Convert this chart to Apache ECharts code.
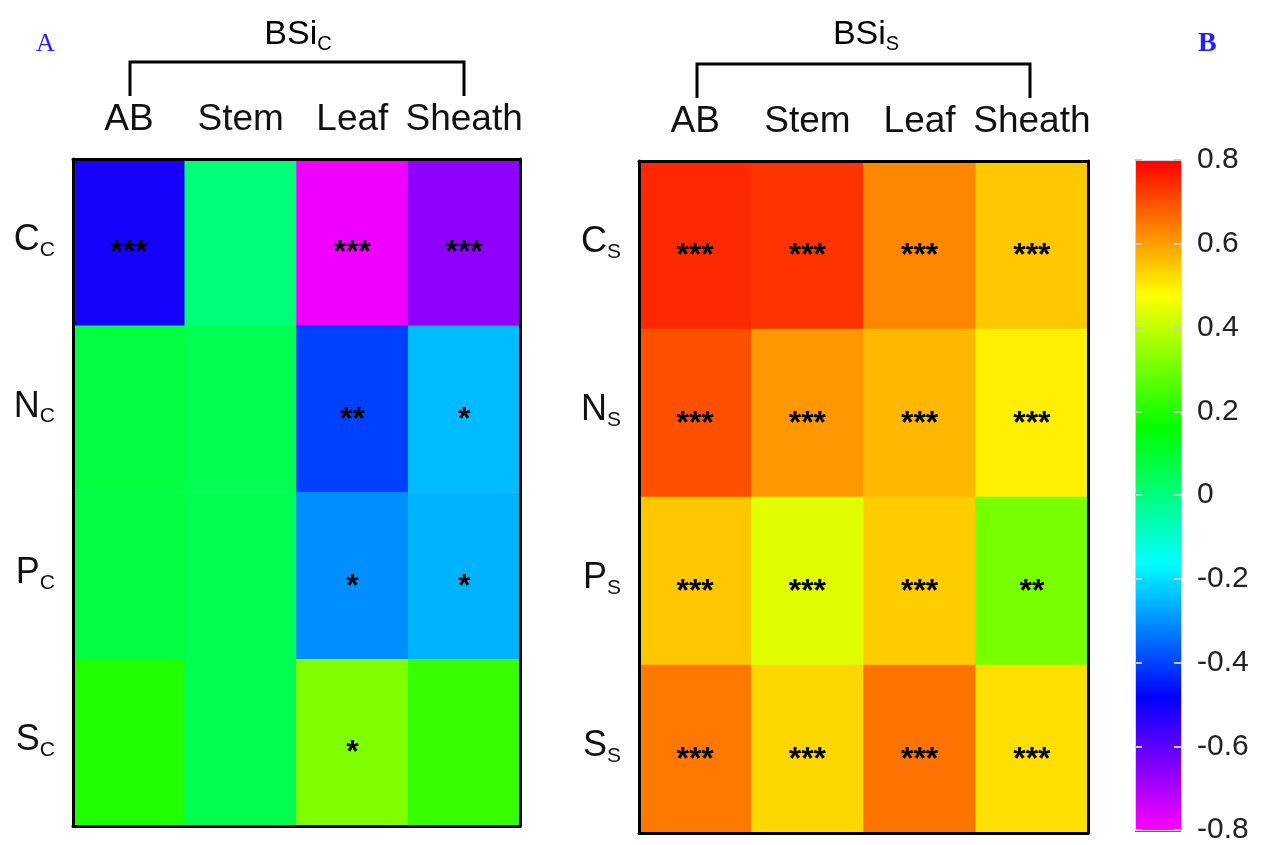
<!DOCTYPE html>
<html><head><meta charset="utf-8">
<script src="https://cdn.jsdelivr.net/npm/echarts@6/dist/echarts.min.js"></script>
<style>html,body{margin:0;padding:0;background:#fff}#c{width:1265px;height:845px}</style>
</head><body><div id="c"></div>
<script>
// ---- data ----
const columns = ['AB', 'Stem', 'Leaf', 'Sheath'];
const rowsA = ['C', 'N', 'P', 'S'];
const rowsB = ['C', 'N', 'P', 'S'];
const subA = 'C';
const subB = 'S';
const titleMain = 'BSi';
// Panel A: correlation of BSi_C with C_c, N_c, P_c, S_c (rows) in AB, Stem, Leaf, Sheath (cols)
const corrA = [
  [-0.51, 0.01, -0.78, -0.66],
  [0.08, 0.06, -0.40, -0.245],
  [0.08, 0.06, -0.30, -0.255],
  [0.20, 0.06, 0.32, 0.23]
];
const sigA = [
  ['***', '', '***', '***'],
  ['', '', '**', '*'],
  ['', '', '*', '*'],
  ['', '', '*', '']
];
// Panel B
const corrB = [
  [0.75, 0.736, 0.63, 0.55],
  [0.70, 0.61, 0.57, 0.50],
  [0.55, 0.44, 0.544, 0.31],
  [0.65, 0.53, 0.655, 0.52]
];
const sigB = [
  ['***', '***', '***', '***'],
  ['***', '***', '***', '***'],
  ['***', '***', '***', '**'],
  ['***', '***', '***', '***']
];
const scaleMin = -0.8, scaleMax = 0.8, scaleStep = 0.2;
const scaleColors = ['#ff00ff', '#0000ff', '#00ffff', '#00ff00', '#ffff00', '#ff0000'];

// ---- chart ----
const FONT = 'Liberation Sans, Arial, sans-serif';
function toData(vals, sig) {
  const out = [];
  vals.forEach((row, r) => row.forEach((v, c) => out.push([c, r, v, sig[r][c]])));
  return out;
}
const rich = {
  m: { fontSize: 36, fontFamily: FONT, color: '#111', lineHeight: 36, padding: [0, 0, 5, 0] },
  s: { fontSize: 21, fontFamily: FONT, color: '#111', lineHeight: 21, verticalAlign: 'bottom' }
};
function catX(gi) {
  return [
    { type: 'category', gridIndex: gi, data: columns, position: 'top', z: 5,
      axisLine: { show: true, onZero: false, lineStyle: { color: '#000', width: 3 } },
      axisTick: { show: false },
      axisLabel: { interval: 0, fontSize: 37, fontFamily: FONT, color: '#111', margin: 21 } },
    { type: 'category', gridIndex: gi, data: columns, position: 'bottom', z: 5,
      axisLine: { show: true, onZero: false, lineStyle: { color: '#000', width: 3 } },
      axisTick: { show: false }, axisLabel: { show: false } }
  ];
}
function catY(gi, rows, sub) {
  return [
    { type: 'category', gridIndex: gi, data: rows, inverse: true, position: 'left', z: 5,
      axisLine: { show: true, onZero: false, lineStyle: { color: '#000', width: 3 } },
      axisTick: { show: false },
      axisLabel: { interval: 0, margin: 18, formatter: v => '{m|' + v + '}{s|' + sub + '}', rich: rich } },
    { type: 'category', gridIndex: gi, data: rows, inverse: true, position: 'right', z: 5,
      axisLine: { show: true, onZero: false, lineStyle: { color: '#000', width: 3 } },
      axisTick: { show: false }, axisLabel: { show: false } }
  ];
}
const starLabel = {
  show: true, formatter: p => p.data[3], fontSize: 32, fontWeight: 'bold', fontFamily: FONT,
  color: '#000', offset: [0, 11]
};
const fmtTick = v => Math.abs(v) < 1e-9 ? '0' : v.toFixed(1);

const chart = echarts.init(document.getElementById('c'), null, { renderer: 'canvas' });
const barGrid = { left: 1135, top: 160, width: 46, height: 672 };
const stops = scaleColors.slice().reverse().map((c, i, a) => ({ offset: i / (a.length - 1), color: c }));
const barLine = { show: true, onZero: false, lineStyle: { color: '#d8d8d8', width: 1 } };
const barTick = { show: true, inside: true, length: 7, lineStyle: { color: '#c8c8c8', width: 2 } };
chart.setOption({
  animation: false,
  backgroundColor: '#fff',
  grid: [
    { left: 73, top: 159, width: 447, height: 667 },
    { left: 639, top: 161, width: 449, height: 672 },
    barGrid
  ],
  xAxis: [
    ...catX(0), ...catX(1),
    { type: 'value', gridIndex: 2, min: 0, max: 1, position: 'top', z: 10, axisLine: barLine,
      axisTick: { show: false }, axisLabel: { show: false }, splitLine: { show: false } },
    { type: 'value', gridIndex: 2, min: 0, max: 1, position: 'bottom', z: 10, axisLine: barLine,
      axisTick: { show: false }, axisLabel: { show: false }, splitLine: { show: false } }
  ],
  yAxis: [
    ...catY(0, rowsA, subA), ...catY(1, rowsB, subB),
    { type: 'value', gridIndex: 2, min: scaleMin, max: scaleMax, interval: scaleStep, position: 'right', z: 10,
      axisLine: barLine, axisTick: barTick, splitLine: { show: false },
      axisLabel: { fontSize: 30, fontFamily: FONT, color: '#222', margin: 16, formatter: fmtTick } },
    { type: 'value', gridIndex: 2, min: scaleMin, max: scaleMax, interval: scaleStep, position: 'left', z: 10,
      axisLine: barLine, axisTick: barTick, splitLine: { show: false }, axisLabel: { show: false } }
  ],
  visualMap: {
    type: 'continuous', show: false, dimension: 2, min: scaleMin, max: scaleMax, seriesIndex: [0, 1],
    inRange: { color: scaleColors }
  },
  series: [
    { type: 'heatmap', xAxisIndex: 0, yAxisIndex: 0, data: toData(corrA, sigA),
      label: starLabel, emphasis: { disabled: true } },
    { type: 'heatmap', xAxisIndex: 2, yAxisIndex: 2, data: toData(corrB, sigB),
      label: starLabel, emphasis: { disabled: true } }
  ],
  graphic: [
    { type: 'rect', z: 1, shape: { x: barGrid.left, y: barGrid.top, width: barGrid.width, height: barGrid.height },
      style: { fill: new echarts.graphic.LinearGradient(0, 0, 0, 1, stops) } },
    { type: 'text', left: 36, top: 31, z: 20,
      style: { text: 'A', font: '26px "Liberation Serif", "DejaVu Serif", serif', fill: '#1f1fff' } },
    { type: 'text', left: 1198, top: 30, z: 20,
      style: { text: 'B', font: 'bold 28px "Liberation Serif", "DejaVu Serif", serif', fill: '#1f1fff' } },
    { type: 'text', x: 298, y: 20, z: 20,
      style: { text: '{m|' + titleMain + '}{s|' + subA + '}', align: 'center',
        rich: { m: { fontSize: 34, fontFamily: FONT, color: '#111', lineHeight: 34, padding: [0, 0, 5, 0] },
                s: { fontSize: 20, fontFamily: FONT, color: '#111', lineHeight: 20, verticalAlign: 'bottom' } } } },
    { type: 'text', x: 866, y: 20, z: 20,
      style: { text: '{m|' + titleMain + '}{s|' + subB + '}', align: 'center',
        rich: { m: { fontSize: 34, fontFamily: FONT, color: '#111', lineHeight: 34, padding: [0, 0, 5, 0] },
                s: { fontSize: 20, fontFamily: FONT, color: '#111', lineHeight: 20, verticalAlign: 'bottom' } } } },
    { type: 'polyline', z: 20, shape: { points: [[130, 96], [130, 62], [464, 62], [464, 96]] },
      style: { stroke: '#000', lineWidth: 3, fill: null } },
    { type: 'polyline', z: 20, shape: { points: [[697, 98], [697, 64], [1030, 64], [1030, 98]] },
      style: { stroke: '#000', lineWidth: 3, fill: null } }
  ]
});
</script></body></html>
